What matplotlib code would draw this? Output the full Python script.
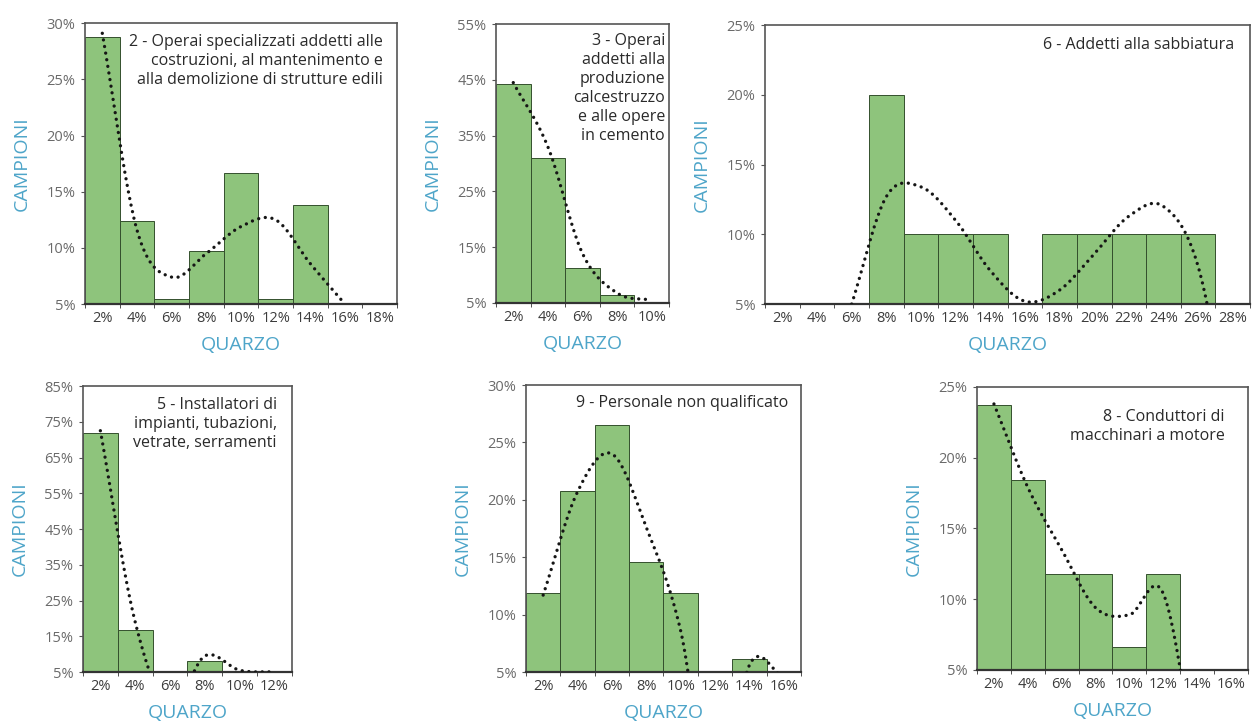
import numpy as np
import matplotlib
matplotlib.use("Agg")
import matplotlib.pyplot as plt
from matplotlib.ticker import FixedLocator

plt.rcParams['font.family'] = ['Open Sans', 'DejaVu Sans']

BAR_COLOR = '#8ec47c'
EDGE_COLOR = '#34502d'
LABEL_BLUE = '#4ea5c9'

# --- data: % of samples per quartz class, plus the trend line values ---
cat_p2 = [2, 4, 6, 8, 10, 12, 14, 16, 18]
bars_p2 = [28.8, 12.4, 5.45, 9.75, 16.7, 5.45, 13.8, 0, 0]
trend_p2 = [29.1, 11.6, 7.4, 9.5, 11.9, 12.5, 8.6, 5.0, np.nan]

cat_p3 = [2, 4, 6, 8, 10]
bars_p3 = [44.2, 31.0, 11.2, 6.5, 0]
trend_p3 = [44.5, 33.0, 13.9, 6.8, 5.5]

cat_p6 = [2, 4, 6, 8, 10, 12, 14, 16, 18, 20, 22, 24, 26, 28]
bars_p6 = [0, 0, 0, 20, 10, 10, 10, 0, 10, 10, 10, 10, 10, 0]
trend_p6 = [np.nan, np.nan, 5.0, 12.7, 13.4, 11.0, 7.4, 5.2, 6.0, 8.6, 11.3, 12.0, 7.7, -5]

cat_p5 = [2, 4, 6, 8, 10, 12]
bars_p5 = [72.0, 16.7, 0, 8.0, 0, 0]
trend_p5 = [72.5, 19.0, -5, 9.5, 5.5, 5.0]

cat_p9 = [2, 4, 6, 8, 10, 12, 14, 16]
bars_p9 = [11.9, 20.8, 26.5, 14.6, 11.9, 0, 6.1, 0]
trend_p9 = [11.7, 20.7, 24.0, 17.6, 8.6, -8, 5.6, 4.5]

cat_p8 = [2, 4, 6, 8, 10, 12, 14, 16]
bars_p8 = [23.7, 18.4, 11.8, 11.8, 6.6, 11.8, 0, 0]
trend_p8 = [23.8, 17.9, 13.5, 9.4, 8.9, 10.4, -2, np.nan]

titles = [
    '2 - Operai specializzati addetti alle\ncostruzioni, al mantenimento e\nalla demolizione di strutture edili',
    '3 - Operai\naddetti alla\nproduzione\ncalcestruzzo\ne alle opere\nin cemento',
    '6 - Addetti alla sabbiatura',
    '5 - Installatori di\nimpianti, tubazioni,\nvetrate, serramenti',
    '9 - Personale non qualificato',
    '8 - Conduttori di\nmacchinari a motore',
]


def smooth(xs, ys, n=24):
    # Catmull-Rom smoothing of each run of finite values
    xs = np.asarray(xs, float)
    ys = np.asarray(ys, float)
    out_x, out_y = [], []
    ok = np.isfinite(ys)
    i = 0
    while i < len(ys):
        if not ok[i]:
            i += 1
            continue
        j = i
        while j < len(ys) and ok[j]:
            j += 1
        px, py = xs[i:j], ys[i:j]
        for k in range(len(px) - 1):
            p0 = py[k - 1] if k > 0 else py[k]
            p3 = py[k + 2] if k + 2 < len(py) else py[k + 1]
            p1, p2 = py[k], py[k + 1]
            m1 = (p2 - p0) / (2 if k > 0 else 1)
            m2 = (p3 - p1) / (2 if k + 2 < len(py) else 1)
            t = np.linspace(0, 1, n)
            h00 = 2 * t**3 - 3 * t**2 + 1
            h10 = t**3 - 2 * t**2 + t
            h01 = -2 * t**3 + 3 * t**2
            h11 = t**3 - t**2
            out_x.append(px[k] + t * (px[k + 1] - px[k]))
            out_y.append(h00 * p1 + h10 * m1 + h01 * p2 + h11 * m2)
        out_x.append([np.nan])
        out_y.append([np.nan])
        i = j
    return np.concatenate(out_x), np.concatenate(out_y)


def draw_panel(rect, cats, bars, trend, title, ymin, ymax, ystep, text_off):
    ax = fig.add_axes(rect)
    pos = np.arange(len(cats))
    ax.bar(pos, bars, width=1.0, color=BAR_COLOR, edgecolor=EDGE_COLOR,
           linewidth=0.7, zorder=2)
    sx, sy = smooth(pos, trend)
    ax.plot(sx, sy, color='#151515', lw=2.4, linestyle=(0, (0.01, 2.0)),
            dash_capstyle='round', zorder=3)

    ax.set_xlim(-0.5, len(cats) - 0.5)
    ax.set_ylim(ymin, ymax)
    yt = np.arange(ymin, ymax + 0.1, ystep)
    ax.set_yticks(yt)
    ax.set_yticklabels(['%d%%' % v for v in yt], fontsize=10.5, color='#6a6a6a')
    ax.set_xticks(pos)
    ax.set_xticklabels(['%d%%' % c for c in cats], fontsize=10.5, color='#3c3c3c')
    ax.xaxis.set_minor_locator(FixedLocator(np.arange(len(cats) + 1) - 0.5))
    ax.tick_params(axis='x', which='major', length=0, pad=5)
    ax.tick_params(axis='x', which='minor', length=3, color='#333333', direction='out')
    ax.tick_params(axis='y', length=3, color='#555555', pad=4)

    for sp in ax.spines.values():
        sp.set_color('#555555')
        sp.set_linewidth(1.2)
    ax.spines['bottom'].set_color('#333333')
    ax.spines['bottom'].set_linewidth(1.6)

    ax.set_ylabel('CAMPIONI', color=LABEL_BLUE, fontsize=14, labelpad=11)
    ax.set_xlabel('QUARZO', color=LABEL_BLUE, fontsize=14, labelpad=7)
    ax.annotate(title, xy=(1, 1), xycoords='axes fraction',
                xytext=(-text_off[0] * 0.72, -text_off[1] * 0.72),
                textcoords='offset points', ha='right', va='top',
                fontsize=11.5, color='#2a2a2a', linespacing=1.25, zorder=4)
    return ax


fig = plt.figure(figsize=(12.55, 7.24), dpi=100)

draw_panel([0.0677, 0.580, 0.2486, 0.388], cat_p2, bars_p2, trend_p2, titles[0], 5, 30, 5, (14, 11))
draw_panel([0.3952, 0.5815, 0.1378, 0.3853], cat_p3, bars_p3, trend_p3, titles[1], 5, 55, 10, (4, 9))
draw_panel([0.6096, 0.580, 0.3865, 0.3854], cat_p6, bars_p6, trend_p6, titles[2], 5, 25, 5, (16, 12))
draw_panel([0.0661, 0.0718, 0.1665, 0.395], cat_p5, bars_p5, trend_p5, titles[3], 5, 85, 10, (15, 11))
draw_panel([0.4191, 0.0718, 0.2191, 0.3964], cat_p9, bars_p9, trend_p9, titles[4], 5, 30, 5, (13, 10))
draw_panel([0.7785, 0.0746, 0.2159, 0.3909], cat_p8, bars_p8, trend_p8, titles[5], 5, 25, 5, (23, 22))

fig.savefig('out.png', dpi=100)
